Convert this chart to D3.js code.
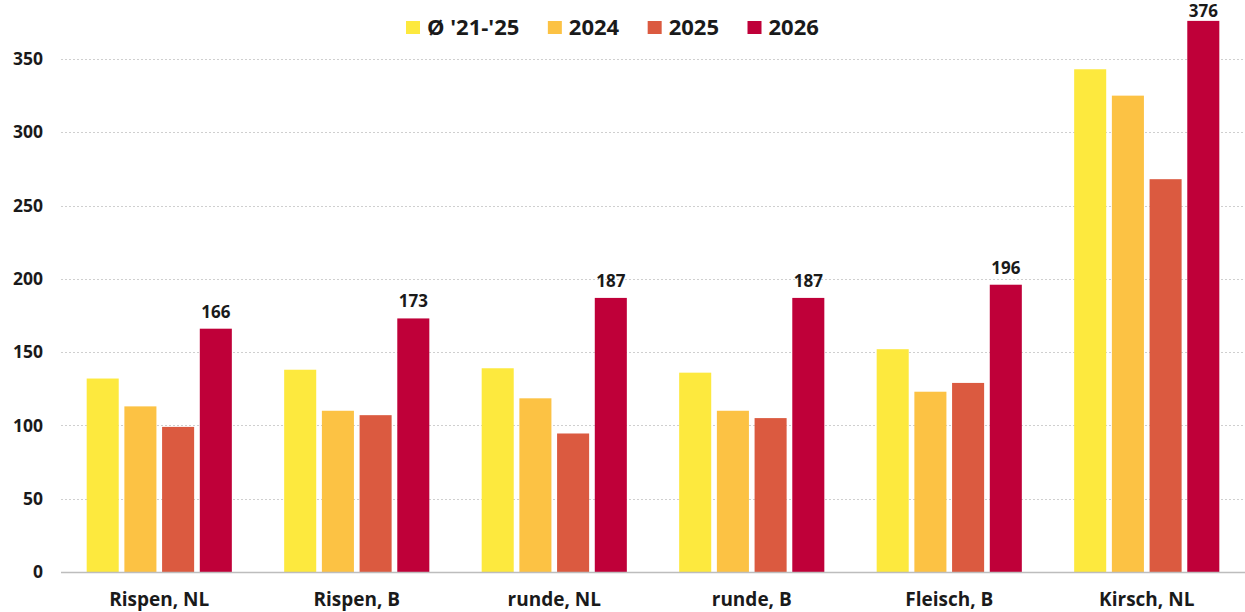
<!DOCTYPE html>
<html>
<head>
<meta charset="utf-8">
<script src="https://cdn.jsdelivr.net/npm/d3@7"></script>
<style>
  body { margin: 0; background: #fff; }
  svg { display: block; font-family: 'Open Sans', 'Noto Sans', sans-serif; font-weight: 700; }
</style>
</head>
<body>
<svg id="chart" width="1245" height="612"></svg>
<script>
const categories = ['Rispen, NL', 'Rispen, B', 'runde, NL', 'runde, B', 'Fleisch, B', 'Kirsch, NL'];
const seriesNames = ["Ø '21-'25", '2024', '2025', '2026'];
const avg2125 = [132, 138, 139, 136, 152, 343];
const y2024 = [113, 110, 118.5, 110, 123, 325];
const y2025 = [99, 107, 94.5, 105, 129, 268];
const y2026 = [166, 173, 187, 187, 196, 376];
const yTicks = [0, 50, 100, 150, 200, 250, 300, 350];
const colors = ['#FDE93E', '#FCC244', '#DB5A40', '#BF0039'];

const seriesValues = [avg2125, y2024, y2025, y2026];

const width = 1245;
const height = 612;
const margin = { top: 21, right: 0, bottom: 40, left: 61 };

const svg = d3.select('#chart');

const x0 = d3.scaleBand()
  .domain(categories)
  .range([margin.left, width - margin.right])
  .paddingInner(0.265)
  .paddingOuter(0.13);

const x1 = d3.scaleBand()
  .domain(seriesNames)
  .range([0, x0.bandwidth()])
  .paddingInner(0.15)
  .paddingOuter(0);

const y = d3.scaleLinear()
  .domain([0, 350])
  .range([572, 59]);

// gridlines
svg.append('g')
  .selectAll('line')
  .data(yTicks.filter((t) => t > 0))
  .enter()
  .append('line')
  .attr('x1', margin.left)
  .attr('x2', width)
  .attr('y1', (d) => Math.round(y(d)) + 0.5)
  .attr('y2', (d) => Math.round(y(d)) + 0.5)
  .attr('stroke', '#cfcfcf')
  .attr('stroke-width', 1)
  .attr('stroke-dasharray', '2,2');

// y tick labels
svg.append('g')
  .selectAll('text')
  .data(yTicks)
  .enter()
  .append('text')
  .attr('x', 43)
  .attr('y', (d) => y(d))
  .attr('dy', '0.35em')
  .attr('text-anchor', 'end')
  .style('font-size', '17.5px')
  .style('fill', '#1a1a1a')
  .text((d) => d);

// bars
const rows = categories.map((c, i) => ({
  cat: c,
  vals: seriesNames.map((s, j) => ({ s, j, v: seriesValues[j][i] })),
}));

const groups = svg.append('g')
  .selectAll('g')
  .data(rows)
  .enter()
  .append('g')
  .attr('transform', (d) => `translate(${x0(d.cat)},0)`);

groups.selectAll('rect')
  .data((d) => d.vals)
  .enter()
  .append('rect')
  .attr('x', (d) => x1(d.s))
  .attr('y', (d) => y(d.v))
  .attr('width', x1.bandwidth())
  .attr('height', (d) => y(0) - y(d.v))
  .style('fill', (d) => colors[d.j]);

// value labels on 2026 bars (kept inside the top edge)
groups.append('text')
  .attr('x', (d) => x1('2026') + x1.bandwidth() / 2)
  .attr('y', (d) => Math.max(y(d.vals[3].v) - 11, 17))
  .attr('text-anchor', 'middle')
  .style('font-size', '17px')
  .style('fill', '#1a1a1a')
  .text((d) => d.vals[3].v);

// baseline
svg.append('line')
  .attr('x1', margin.left)
  .attr('x2', width)
  .attr('y1', y(0) + 0.5)
  .attr('y2', y(0) + 0.5)
  .attr('stroke', '#bdbdbd')
  .attr('stroke-width', 1.5);

// category labels
svg.append('g')
  .selectAll('text')
  .data(categories)
  .enter()
  .append('text')
  .attr('x', (d) => x0(d) + x0.bandwidth() / 2)
  .attr('y', 606)
  .attr('text-anchor', 'middle')
  .style('font-size', '19px')
  .style('fill', '#1a1a1a')
  .text((d) => d);

// legend
const legend = svg.append('g').attr('class', 'legend');
let lx = 406;
seriesNames.forEach((name, i) => {
  legend.append('rect')
    .attr('x', lx)
    .attr('y', 21)
    .attr('width', 14)
    .attr('height', 13)
    .style('fill', colors[i]);
  const t = legend.append('text')
    .attr('x', lx + 21)
    .attr('y', 35)
    .style('font-size', '22px')
    .style('fill', '#1a1a1a')
    .text(name);
  lx += 21 + t.node().getComputedTextLength() + 28.5;
});
</script>
</body>
</html>
